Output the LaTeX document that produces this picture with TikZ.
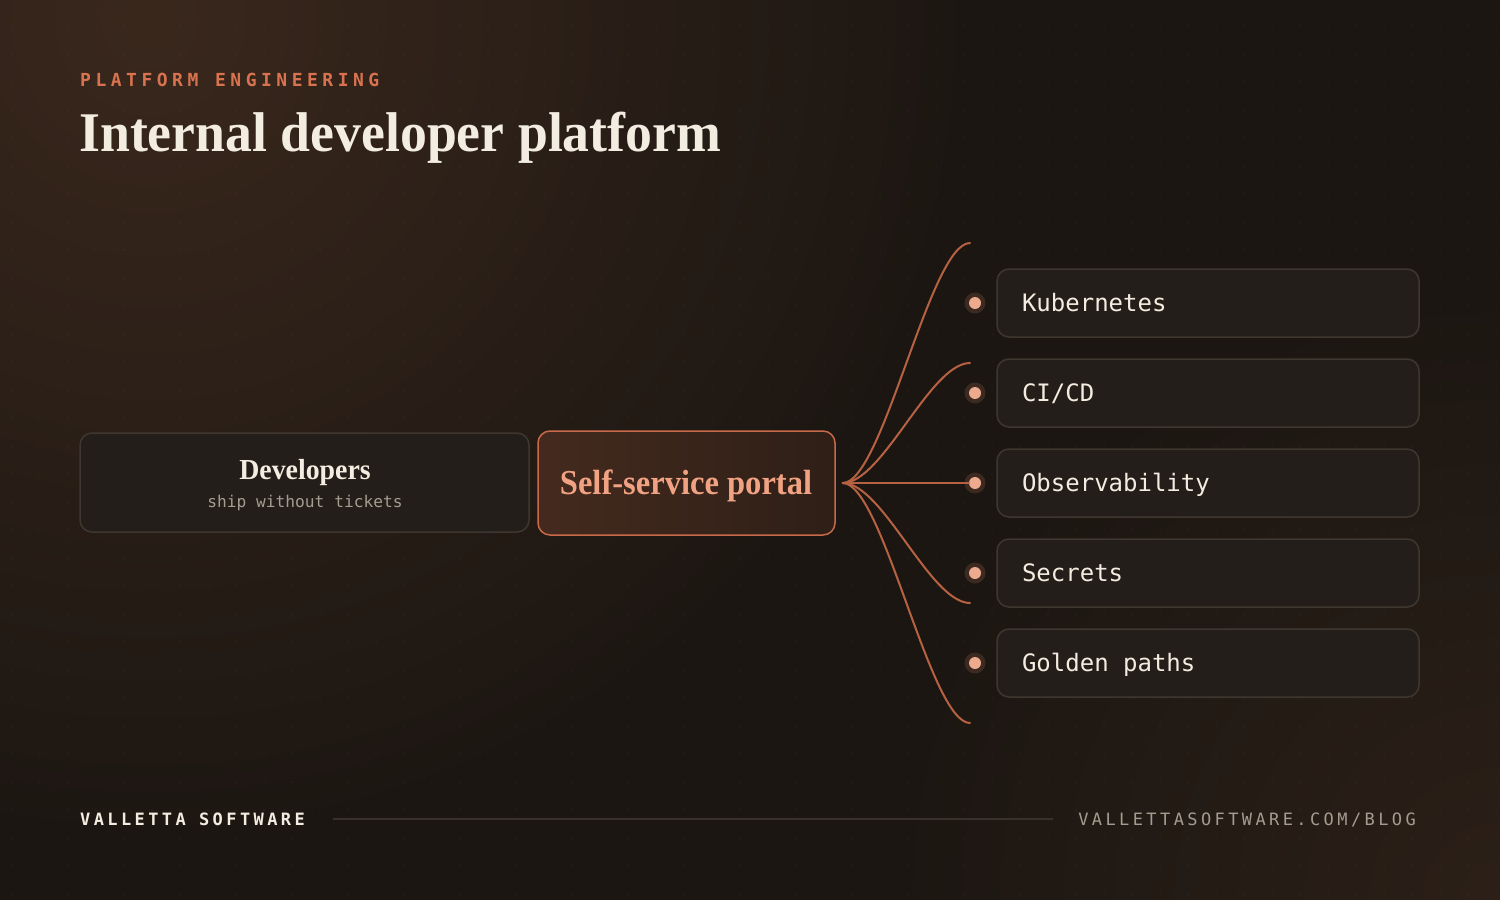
\documentclass[tikz,border=0pt]{standalone}
\usepackage{fontspec}
\setmainfont[FakeStretch=0.93]{Liberation Serif}
\newfontfamily\headfont[FakeStretch=0.96]{Liberation Serif}
\newfontfamily\monofont{DejaVu Sans Mono}
\newfontfamily\kickerfont[LetterSpace=25]{DejaVu Sans Mono}
\newfontfamily\footfont[LetterSpace=20]{DejaVu Sans Mono}
\usetikzlibrary{fadings}
\definecolor{bgbase}{RGB}{27,22,18}
\definecolor{bgwarm}{RGB}{58,40,29}
\definecolor{bgwarm2}{RGB}{44,32,24}
\definecolor{kickc}{RGB}{217,115,79}
\definecolor{inkcream}{RGB}{243,236,224}
\definecolor{inkmuted}{RGB}{165,156,144}
\definecolor{boxfill}{RGB}{35,30,25}
\definecolor{boxline}{RGB}{62,55,48}
\definecolor{portalc}{RGB}{200,106,74}
\definecolor{portalink}{RGB}{240,162,130}
\definecolor{portaltop}{RGB}{68,42,30}
\definecolor{portalbot}{RGB}{46,31,23}
\definecolor{linkc}{RGB}{182,98,66}
\definecolor{dotc}{RGB}{236,170,142}
\definecolor{haloc}{RGB}{60,42,33}
\definecolor{rulec}{RGB}{56,49,43}
\tikzfading[name=glowfade,inner color=transparent!0,outer color=transparent!100]

\begin{document}
\begin{tikzpicture}[x=1pt,y=-1pt,
  box/.style={draw=boxline,line width=1.5pt,fill=boxfill,rounded corners=12pt},
  item/.style={box,minimum width=422pt,minimum height=68pt,text width=372pt,inner xsep=25pt,
    align=flush left,text height=17.5pt,text depth=0pt,text=inkcream,font=\monofont\fontsize{24}{28}\selectfont},
  halo/.style={circle,fill=haloc,minimum size=21pt,inner sep=0pt},
  pip/.style={circle,fill=dotc,minimum size=12pt,inner sep=0pt},
  link/.style={linkc,line width=2pt,line cap=round},
  foot/.style={anchor=base west,inner sep=0pt,text height=12.5pt,text depth=0pt,font=\footfont\fontsize{17}{20}\selectfont}]
\useasboundingbox (0,0) rectangle (1500,900);
\fill[bgbase] (0,0) rectangle (1500,900);
\begin{scope}
\clip (0,0) rectangle (1500,900);
\fill[bgwarm,path fading=glowfade] (150,20) circle (850);
\fill[bgwarm2,path fading=glowfade] (1500,900) circle (650);
\end{scope}
\foreach \i in {0,...,53} \foreach \j in {0,...,32}
  \fill[white,opacity=0.045] (12+28*\i,26+28*\j) circle (1);

\node[anchor=base west,inner sep=0pt,text=kickc,font=\kickerfont\bfseries\fontsize{18}{22}\selectfont] (kicker) at (80,86) {PLATFORM\hspace{0.93em}ENGINEERING};
\node[anchor=base west,inner sep=0pt,text=inkcream,font=\headfont\bfseries\fontsize{56}{62}\selectfont] (title) at (79,151) {Internal developer platform};

\node[box,minimum width=449pt,minimum height=99pt] (devs) at (304.5,482.5) {};
\node[anchor=base,inner sep=0pt,text=inkcream,font=\headfont\bfseries\fontsize{29}{32}\selectfont] (devname) at (305,479) {Developers};
\node[anchor=base,inner sep=0pt,text=inkmuted,font=\monofont\fontsize{16.2}{20}\selectfont] (devsub) at (305,507) {ship without tickets};

\node[box,draw=portalc,left color=portaltop,right color=portalbot,minimum width=297pt,minimum height=104pt] (portal) at (686.5,483) {};
\node[anchor=base,inner sep=0pt,text=portalink,font=\bfseries\fontsize{35}{40}\selectfont] (portalname) at (686,494) {Self-service portal};
\coordinate (hub) at ([xshift=7pt]portal.east);

\foreach \i/\t in {1/Kubernetes,2/{CI/CD},3/Observability,4/Secrets,5/Golden paths} {
  \node[item] (svc\i) at (1208,213+90*\i) {\t};
  \node[halo] (halo\i) at (975,213+90*\i) {};
  \node[pip] (pip\i) at (halo\i) {};
}
\foreach \k/\yy in {a/243,b/363,d/603,e/723} {
  \coordinate (end\k) at (970,\yy);
  \draw[link] (hub) .. controls +(40,0) and +(-40,0) .. (end\k);
}
\draw[link,line width=2.5pt] (hub) -- (pip3);

\node[foot,text=inkcream,font=\footfont\bfseries\fontsize{17}{20}\selectfont] (brand) at (80,825) {VALLETTA\hspace{0.78em}SOFTWARE};
\node[foot,anchor=base east,text=inkmuted] (url) at (1416,825) {VALLETTASOFTWARE.COM/BLOG};
\draw[rulec,line width=1.5pt] ([xshift=28pt]brand.east) -- ([xshift=-25pt]url.west);
\end{tikzpicture}
\end{document}
